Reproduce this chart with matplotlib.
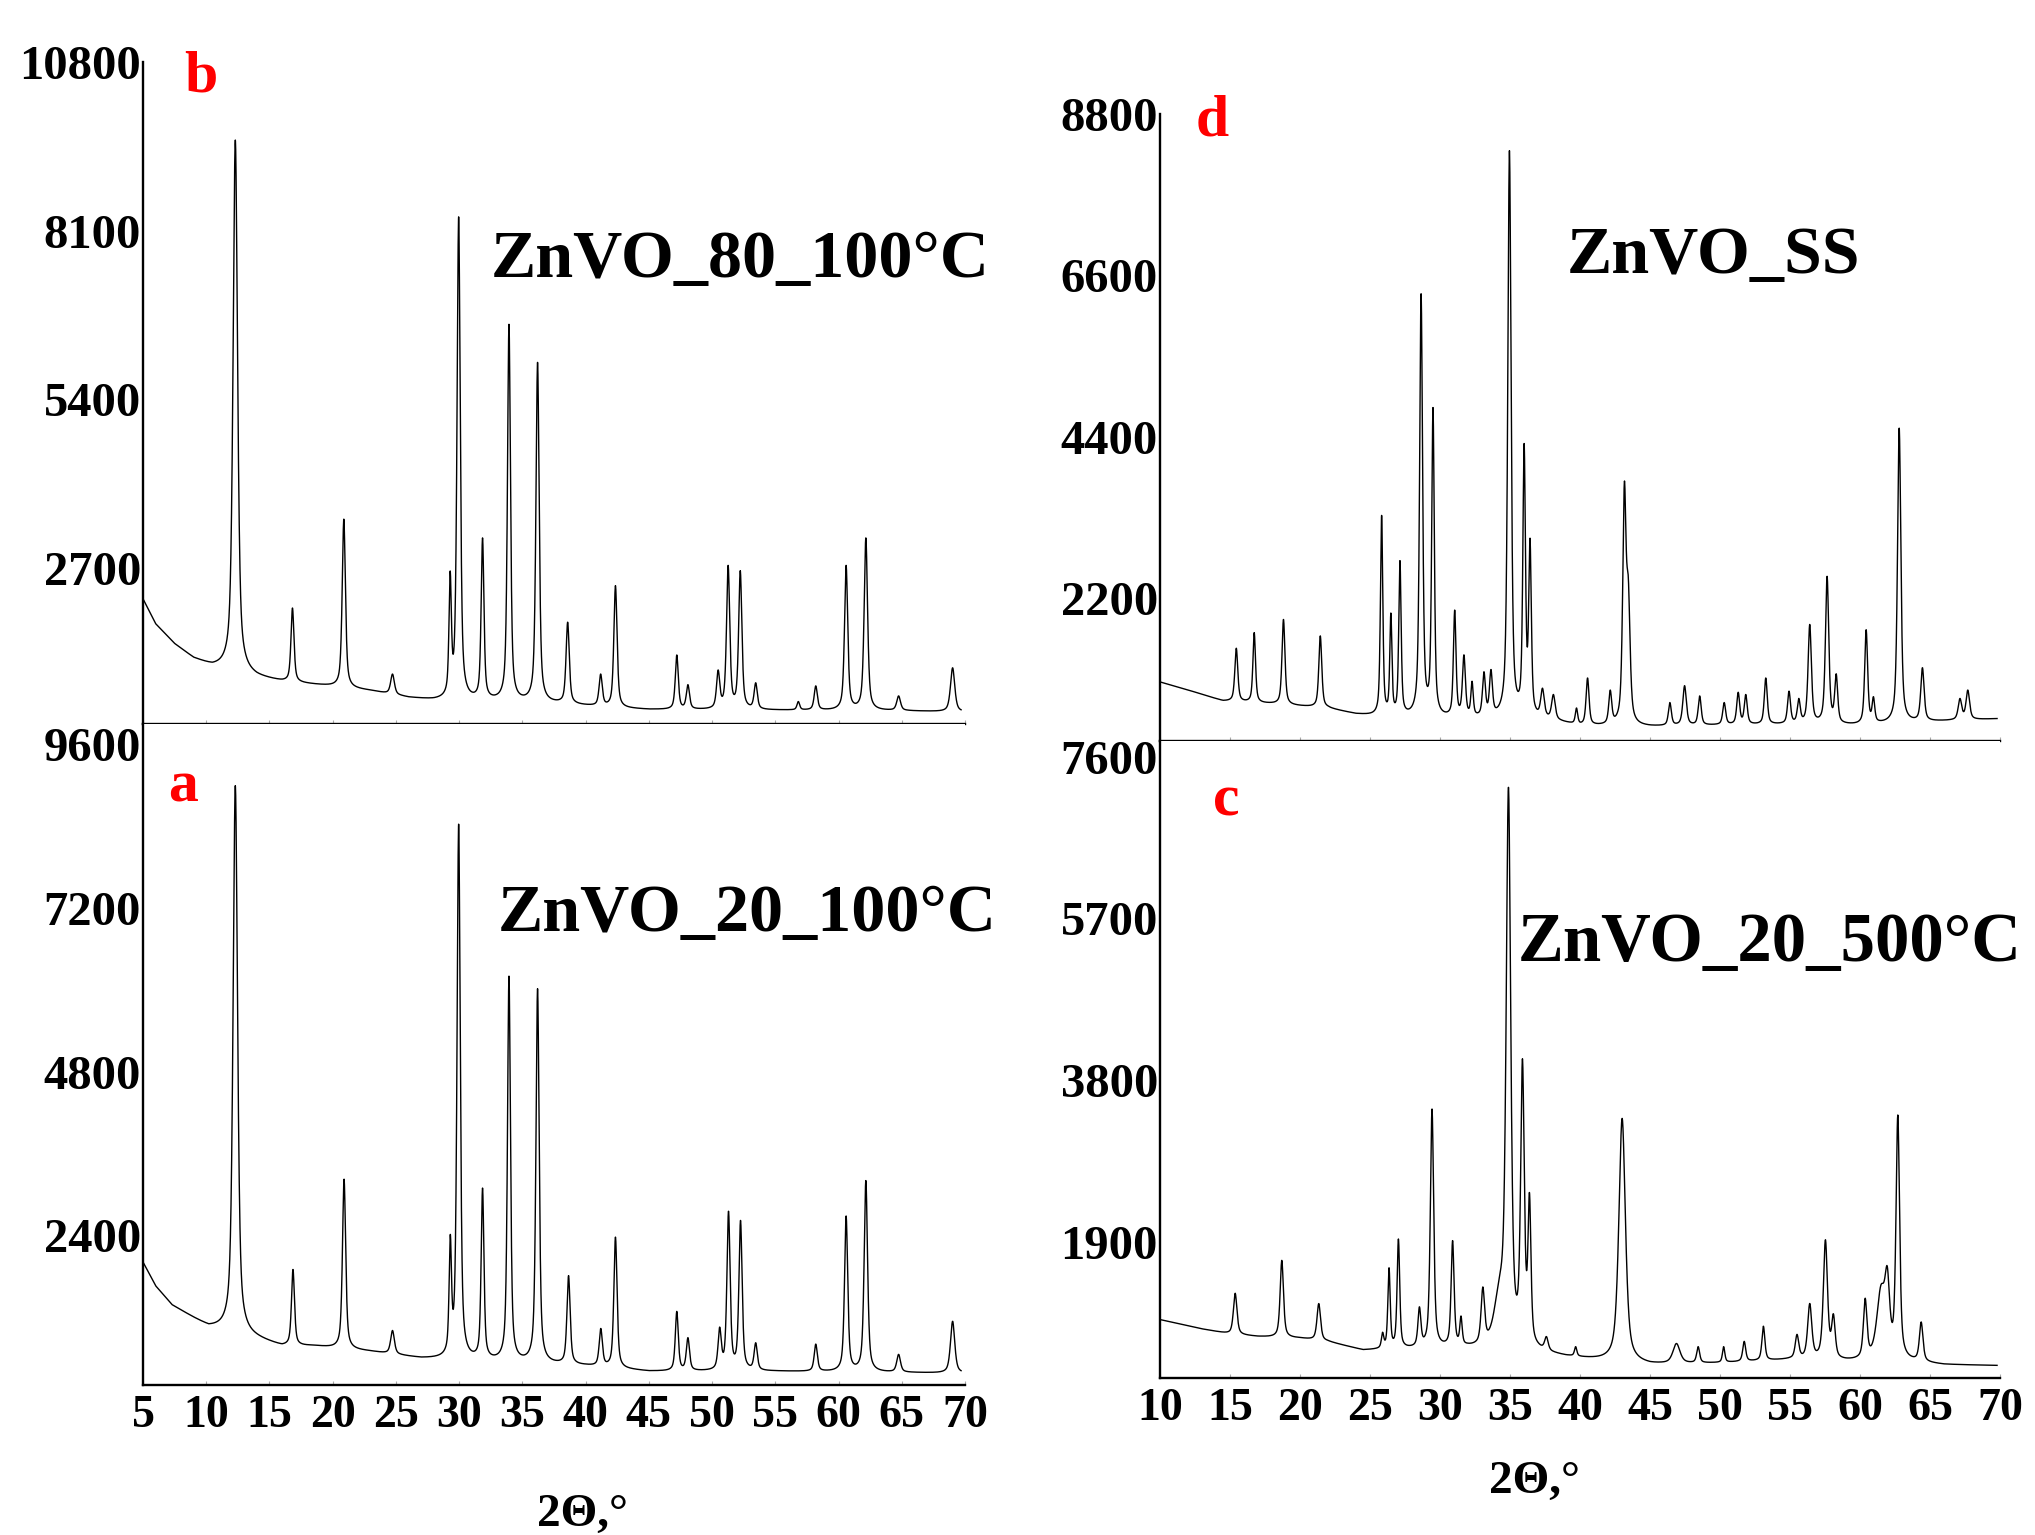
"""Four-panel XRD figure for the ZnVO samples, written to out.png.

Each pattern is kept as a peak list (position, apex counts, FWHM) plus a few
background anchor points, all read off the reference figure. The profile is
drawn as pseudo-Voigt peaks on top of that background.
"""

from __future__ import annotations

import matplotlib

matplotlib.use("Agg")
import matplotlib.pyplot as plt
import numpy as np

# ---- b: ZnVO_80_100°C -------------------------------------------------------
B_POS = [12.30, 16.82, 20.88, 24.73, 29.29, 29.96, 31.85, 33.94, 36.20, 38.58,
         41.19, 42.36, 47.21, 48.09, 50.48, 51.27, 52.23, 53.45, 56.82, 58.20,
         60.60, 62.16, 64.75, 69.02]
B_TOP = [9550, 2057, 3480, 1000, 2650, 8320, 3180, 6600, 5990, 1830,
         1000, 2415, 1305, 830, 1065, 2740, 2655, 860, 560, 810,
         2740, 3180, 650, 1100]
B_FWHM = [0.42, 0.28, 0.30, 0.35, 0.22, 0.30, 0.26, 0.28, 0.30, 0.30,
          0.30, 0.30, 0.28, 0.30, 0.30, 0.30, 0.30, 0.30, 0.25, 0.30,
          0.30, 0.32, 0.35, 0.40]
B_BG_POS = [5, 6, 7.5, 9, 10.5, 11.8, 14, 16, 18.5, 20, 23, 26, 28, 33, 38, 42, 45, 55, 65, 70]
B_BG_VAL = [2200, 1800, 1480, 1250, 1120, 1080, 950, 880, 830, 800, 730, 620, 580, 560, 520,
            460, 430, 420, 410, 390]

# ---- a: ZnVO_20_100°C -------------------------------------------------------
A_POS = [12.30, 16.86, 20.90, 24.73, 29.30, 29.96, 31.85, 33.94, 36.20, 38.65,
         41.20, 42.36, 47.21, 48.09, 50.60, 51.30, 52.25, 53.45, 58.20, 60.60,
         62.16, 64.75, 69.02]
A_TOP = [8995, 1895, 3220, 1000, 2410, 8430, 3090, 6200, 6015, 1805,
         1030, 2370, 1280, 895, 1050, 2750, 2615, 820, 800, 2680,
         3200, 650, 1135]
A_FWHM = [0.42, 0.28, 0.30, 0.35, 0.22, 0.30, 0.26, 0.28, 0.30, 0.30,
          0.30, 0.30, 0.28, 0.30, 0.30, 0.30, 0.30, 0.30, 0.30, 0.30,
          0.32, 0.35, 0.40]
A_BG_POS = [5, 6, 7.3, 9, 10.2, 11.8, 14, 16, 18.5, 23, 27, 33, 40, 45, 55, 66, 70]
A_BG_VAL = [2000, 1650, 1370, 1180, 1050, 1000, 880, 770, 770, 690, 590, 540, 480, 400, 400,
            380, 370]

# ---- d: ZnVO_SS -------------------------------------------------------------
D_POS = [15.45, 16.73, 18.82, 21.45, 25.83, 26.49, 27.14, 28.65, 29.50, 31.05,
         31.71, 32.29, 33.14, 33.64, 34.96, 36.01, 36.43, 37.32, 38.10, 39.75,
         40.54, 42.16, 43.17, 43.45, 46.42, 47.47, 48.55, 50.30, 51.30, 51.84,
         53.27, 54.93, 55.63, 56.41, 57.65, 58.30, 60.44, 60.96, 62.80, 64.46,
         67.14, 67.70]
D_TOP = [1520, 1733, 1912, 1688, 3330, 2000, 2714, 6350, 4800, 2040,
         1430, 1070, 1200, 1230, 8300, 4310, 3020, 976, 890, 706,
         1115, 950, 3790, 2490, 780, 1010, 870, 780, 920, 890,
         1115, 935, 836, 1844, 2500, 1172, 1772, 860, 4519, 1255,
         836, 950]
D_FWHM = [0.25, 0.22, 0.25, 0.25, 0.20, 0.18, 0.20, 0.25, 0.22, 0.22,
          0.25, 0.20, 0.25, 0.25, 0.28, 0.22, 0.22, 0.30, 0.30, 0.20,
          0.25, 0.25, 0.28, 0.30, 0.25, 0.30, 0.25, 0.25, 0.25, 0.25,
          0.25, 0.25, 0.25, 0.28, 0.28, 0.25, 0.25, 0.22, 0.28, 0.28,
          0.30, 0.30]
D_BG_POS = [10, 12, 14.5, 18, 22, 24, 26, 30, 34, 38, 40, 45, 50, 55, 60, 65, 70]
D_BG_VAL = [1060, 950, 800, 760, 700, 620, 580, 560, 550, 530, 460, 450, 470, 480, 470, 520, 560]

# ---- c: ZnVO_20_500°C -------------------------------------------------------
C_POS = [15.37, 18.70, 21.34, 25.90, 26.36, 27.03, 28.53, 29.43, 30.90, 31.50,
         33.06, 34.25, 34.89, 35.89, 36.39, 37.60, 39.69, 43.01, 46.89, 48.44,
         50.26, 51.73, 53.10, 55.50, 56.41, 57.53, 58.10, 60.37, 61.50, 61.95,
         62.70, 64.37]
C_TOP = [1300, 1686, 1179, 842, 1599, 1937, 1141, 3463, 1918, 1033,
         1374, 1500, 7240, 4053, 2483, 792, 673, 3353, 710, 673,
         673, 735, 913, 817, 1180, 1928, 1059, 1242, 1400, 1614,
         3393, 963]
C_FWHM = [0.30, 0.28, 0.30, 0.20, 0.20, 0.22, 0.25, 0.28, 0.25, 0.20,
          0.30, 0.90, 0.38, 0.30, 0.25, 0.30, 0.20, 0.55, 0.60, 0.25,
          0.20, 0.25, 0.25, 0.30, 0.35, 0.35, 0.30, 0.30, 0.70, 0.40,
          0.30, 0.30]
C_BG_POS = [10, 13, 15, 17, 20, 22, 24.5, 27, 32, 37, 39, 42, 45, 50, 55, 59, 63, 66, 70]
C_BG_VAL = [990, 880, 820, 790, 770, 730, 630, 640, 650, 600, 550, 500, 460, 480, 520, 500,
            500, 460, 450]

LEFT_XTICKS = list(range(5, 71, 5))
RIGHT_XTICKS = list(range(10, 71, 5))
B_YTICKS = [2700, 5400, 8100, 10800]
A_YTICKS = [2400, 4800, 7200, 9600]
D_YTICKS = [2200, 4400, 6600, 8800]
C_YTICKS = [1900, 3800, 5700, 7600]

W, H = 2035, 1535
SERIF = "Liberation Serif"


def _shape(x, pos, fwhm, eta=0.6):
    u = (x - pos) / (fwhm / 2.0)
    return eta / (1.0 + u ** 2) + (1.0 - eta) * np.exp(-np.log(2.0) * u ** 2)


def profile(x, bg_pos, bg_val, pos, top, fwhm):
    """Background plus peaks scaled so each apex hits its read-off count."""
    pos = np.asarray(pos, dtype=float)
    fwhm = np.asarray(fwhm, dtype=float)
    excess = np.asarray(top, dtype=float) - np.interp(pos, bg_pos, bg_val)
    mat = np.array([[_shape(p, q, w) for q, w in zip(pos, fwhm)] for p in pos])
    amps = np.clip(np.linalg.solve(mat, excess), 0, None)
    y = np.interp(x, bg_pos, bg_val).astype(float)
    for p, w, a in zip(pos, fwhm, amps):
        y += a * _shape(x, p, w)
    return y


def px_axes(fig, left, top, right, bottom):
    """Axes placed by pixel edges (origin at the top-left of the image)."""
    return fig.add_axes([left / W, 1 - bottom / H, (right - left) / W, (bottom - top) / H])


def style(ax, xlim, ylim, xticks, yticks, show_xlabels):
    ax.set_xlim(*xlim)
    ax.set_ylim(*ylim)
    for side in ("top", "right"):
        ax.spines[side].set_visible(False)
    for side in ("left", "bottom"):
        ax.spines[side].set_linewidth(1.7)
    ax.set_xticks(xticks)
    ax.set_yticks(yticks)
    ax.set_yticklabels([str(t) for t in yticks], fontsize=35, fontweight="bold", family=SERIF)
    ax.tick_params(axis="y", length=0, pad=1.5)
    ax.tick_params(axis="x", direction="in", length=3, width=0.8, color="#aaaaaa", pad=7,
                   labelbottom=show_xlabels)
    if show_xlabels:
        ax.set_xticklabels([str(t) for t in xticks], fontsize=33, fontweight="bold", family=SERIF)


def fig_text(fig, x, y, s, **kw):
    fig.text(x / W, 1 - y / H, s, family=SERIF, fontweight="bold", **kw)


def main() -> None:
    fig = plt.figure(figsize=(W / 100, H / 100), dpi=100)

    x_left = np.arange(5.0, 69.7, 0.01)
    x_right = np.arange(10.0, 69.8, 0.01)

    ax_b = px_axes(fig, 143, 62, 965, 724)
    ax_a = px_axes(fig, 143, 724, 965, 1385)
    ax_d = px_axes(fig, 1160, 114, 2000, 741)
    ax_c = px_axes(fig, 1160, 741, 2000, 1378)

    panels = [
        (ax_b, x_left, B_BG_POS, B_BG_VAL, B_POS, B_TOP, B_FWHM),
        (ax_a, x_left, A_BG_POS, A_BG_VAL, A_POS, A_TOP, A_FWHM),
        (ax_d, x_right, D_BG_POS, D_BG_VAL, D_POS, D_TOP, D_FWHM),
        (ax_c, x_right, C_BG_POS, C_BG_VAL, C_POS, C_TOP, C_FWHM),
    ]
    for ax, x, bgp, bgv, pos, top, fwhm in panels:
        ax.plot(x, profile(x, bgp, bgv, pos, top, fwhm), color="black", linewidth=1.0)

    style(ax_b, (5, 70), (200, 10800), LEFT_XTICKS, B_YTICKS, False)
    style(ax_a, (5, 70), (200, 9900), LEFT_XTICKS, A_YTICKS, True)
    style(ax_d, (10, 70), (256, 8800), RIGHT_XTICKS, D_YTICKS, False)
    style(ax_c, (10, 70), (305, 7784), RIGHT_XTICKS, C_YTICKS, True)

    # sample names
    fig_text(fig, 491, 277, "ZnVO_80_100°C", fontsize=49, va="baseline")
    fig_text(fig, 498, 931, "ZnVO_20_100°C", fontsize=49, va="baseline")
    fig_text(fig, 1567, 273, "ZnVO_SS", fontsize=49, va="baseline")
    fig_text(fig, 1518, 961, "ZnVO_20_500°C", fontsize=49.5, va="baseline")

    # panel letters
    for s, x, y in (("b", 201, 91), ("a", 183, 801), ("d", 1212, 135), ("c", 1226, 815)):
        fig_text(fig, x, y, s, fontsize=43, color="#ff0000", ha="center", va="baseline")

    # x axis titles
    fig_text(fig, 582, 1526, "2Θ,°", fontsize=34, ha="center", va="baseline")
    fig_text(fig, 1534, 1493, "2Θ,°", fontsize=34, ha="center", va="baseline")

    fig.savefig("out.png", dpi=100)
    plt.close(fig)


if __name__ == "__main__":
    main()
